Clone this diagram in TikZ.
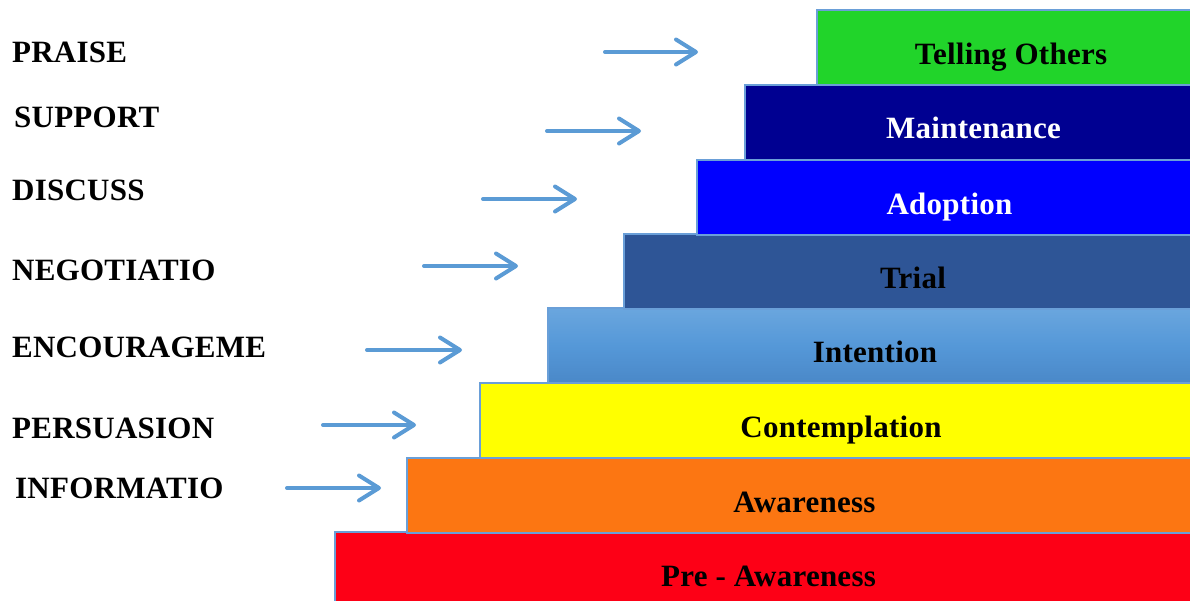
\documentclass[tikz,border=0pt]{standalone}
\usepackage{fontspec}
\setmainfont{Liberation Serif}
\newfontfamily\lblfont[LetterSpace=0.8]{Liberation Serif}
\usetikzlibrary{arrows.meta}
\definecolor{edgeblue}{HTML}{6A9FD8}
\definecolor{arrowblue}{HTML}{5B9BD5}
\definecolor{cgreen}{HTML}{21D42A}
\definecolor{cnavy}{HTML}{000091}
\definecolor{cblue}{HTML}{0000FF}
\definecolor{ctrial}{HTML}{2E5596}
\definecolor{cinttop}{HTML}{6AA6DE}
\definecolor{cintmid}{HTML}{5598D8}
\definecolor{cintbot}{HTML}{4A88C8}
\definecolor{cyellow}{HTML}{FFFF00}
\definecolor{corange}{HTML}{FC7612}
\definecolor{cred}{HTML}{FD0016}
\begin{document}
\begin{tikzpicture}[x=1pt,y=-1pt,
  stage/.style={draw=edgeblue, line width=1.2pt, anchor=north west,
    minimum height=75pt, inner sep=0pt, outer sep=0pt},
  stagetext/.style={anchor=base, inner sep=0pt, font=\lblfont\fontsize{31}{34}\selectfont\bfseries},
  cue/.style={anchor=base west, inner sep=0pt, font=\lblfont\fontsize{31}{34}\selectfont\bfseries},
  cuearrow/.style={draw=arrowblue, line width=4pt, line cap=round,
    -{Straight Barb[length=20pt,width=25pt,round]}}]
\useasboundingbox (0,0) rectangle (1190,600);
\fill[white] (0,0) rectangle (1190,600);
% stages
\node[stage, fill=cred, minimum width=867pt] (s1) at (335,532) {};
\node[stage, fill=corange, minimum width=795pt] (s2) at (407,458) {};
\node[stage, fill=cyellow, minimum width=722pt] (s3) at (480,383) {};
\node[stage, top color=cinttop, bottom color=cintbot, middle color=cintmid, minimum width=654pt] (s4) at (548,308) {};
\node[stage, fill=ctrial, minimum width=578pt] (s5) at (624,234) {};
\node[stage, fill=cblue, minimum width=505pt] (s6) at (697,160) {};
\node[stage, fill=cnavy, minimum width=457pt] (s7) at (745,85) {};
\node[stage, fill=cgreen, minimum width=385pt] (s8) at (817,10) {};
% stage texts
\node[stagetext] (t1) at (768.5,586) {Pre - Awareness};
\node[stagetext] (t2) at (804.5,512) {Awareness};
\node[stagetext] (t3) at (841,437) {Contemplation};
\node[stagetext] (t4) at (875,362) {Intention};
\node[stagetext] (t5) at (913,288) {Trial};
\node[stagetext, text=white] (t6) at (949.5,214) {Adoption};
\node[stagetext, text=white] (t7) at (973.5,138) {Maintenance};
\node[stagetext] (t8) at (1011,64) {Telling Others};
% cues
\node[cue] (c8) at (12,62) {PRAISE};
\node[cue] (c7) at (14,127) {SUPPORT};
\node[cue] (c6) at (12,200) {DISCUSS};
\node[cue] (c5) at (12,280) {NEGOTIATIO};
\node[cue] (c4) at (12,357) {ENCOURAGEME};
\node[cue] (c3) at (12,438) {PERSUASION};
\node[cue] (c2) at (15,498) {INFORMATIO};
% arrows
\coordinate (a8s) at (605,52);  \coordinate (a8e) at (698,52);
\coordinate (a7s) at (547,131); \coordinate (a7e) at (641,131);
\coordinate (a6s) at (483,199); \coordinate (a6e) at (577,199);
\coordinate (a5s) at (424,266); \coordinate (a5e) at (518,266);
\coordinate (a4s) at (367,350); \coordinate (a4e) at (462,350);
\coordinate (a3s) at (323,425); \coordinate (a3e) at (416,425);
\coordinate (a2s) at (287,488); \coordinate (a2e) at (381,488);
\foreach \i in {2,...,8} {\draw[cuearrow] (a\i s) -- (a\i e);}
\end{tikzpicture}
\end{document}
